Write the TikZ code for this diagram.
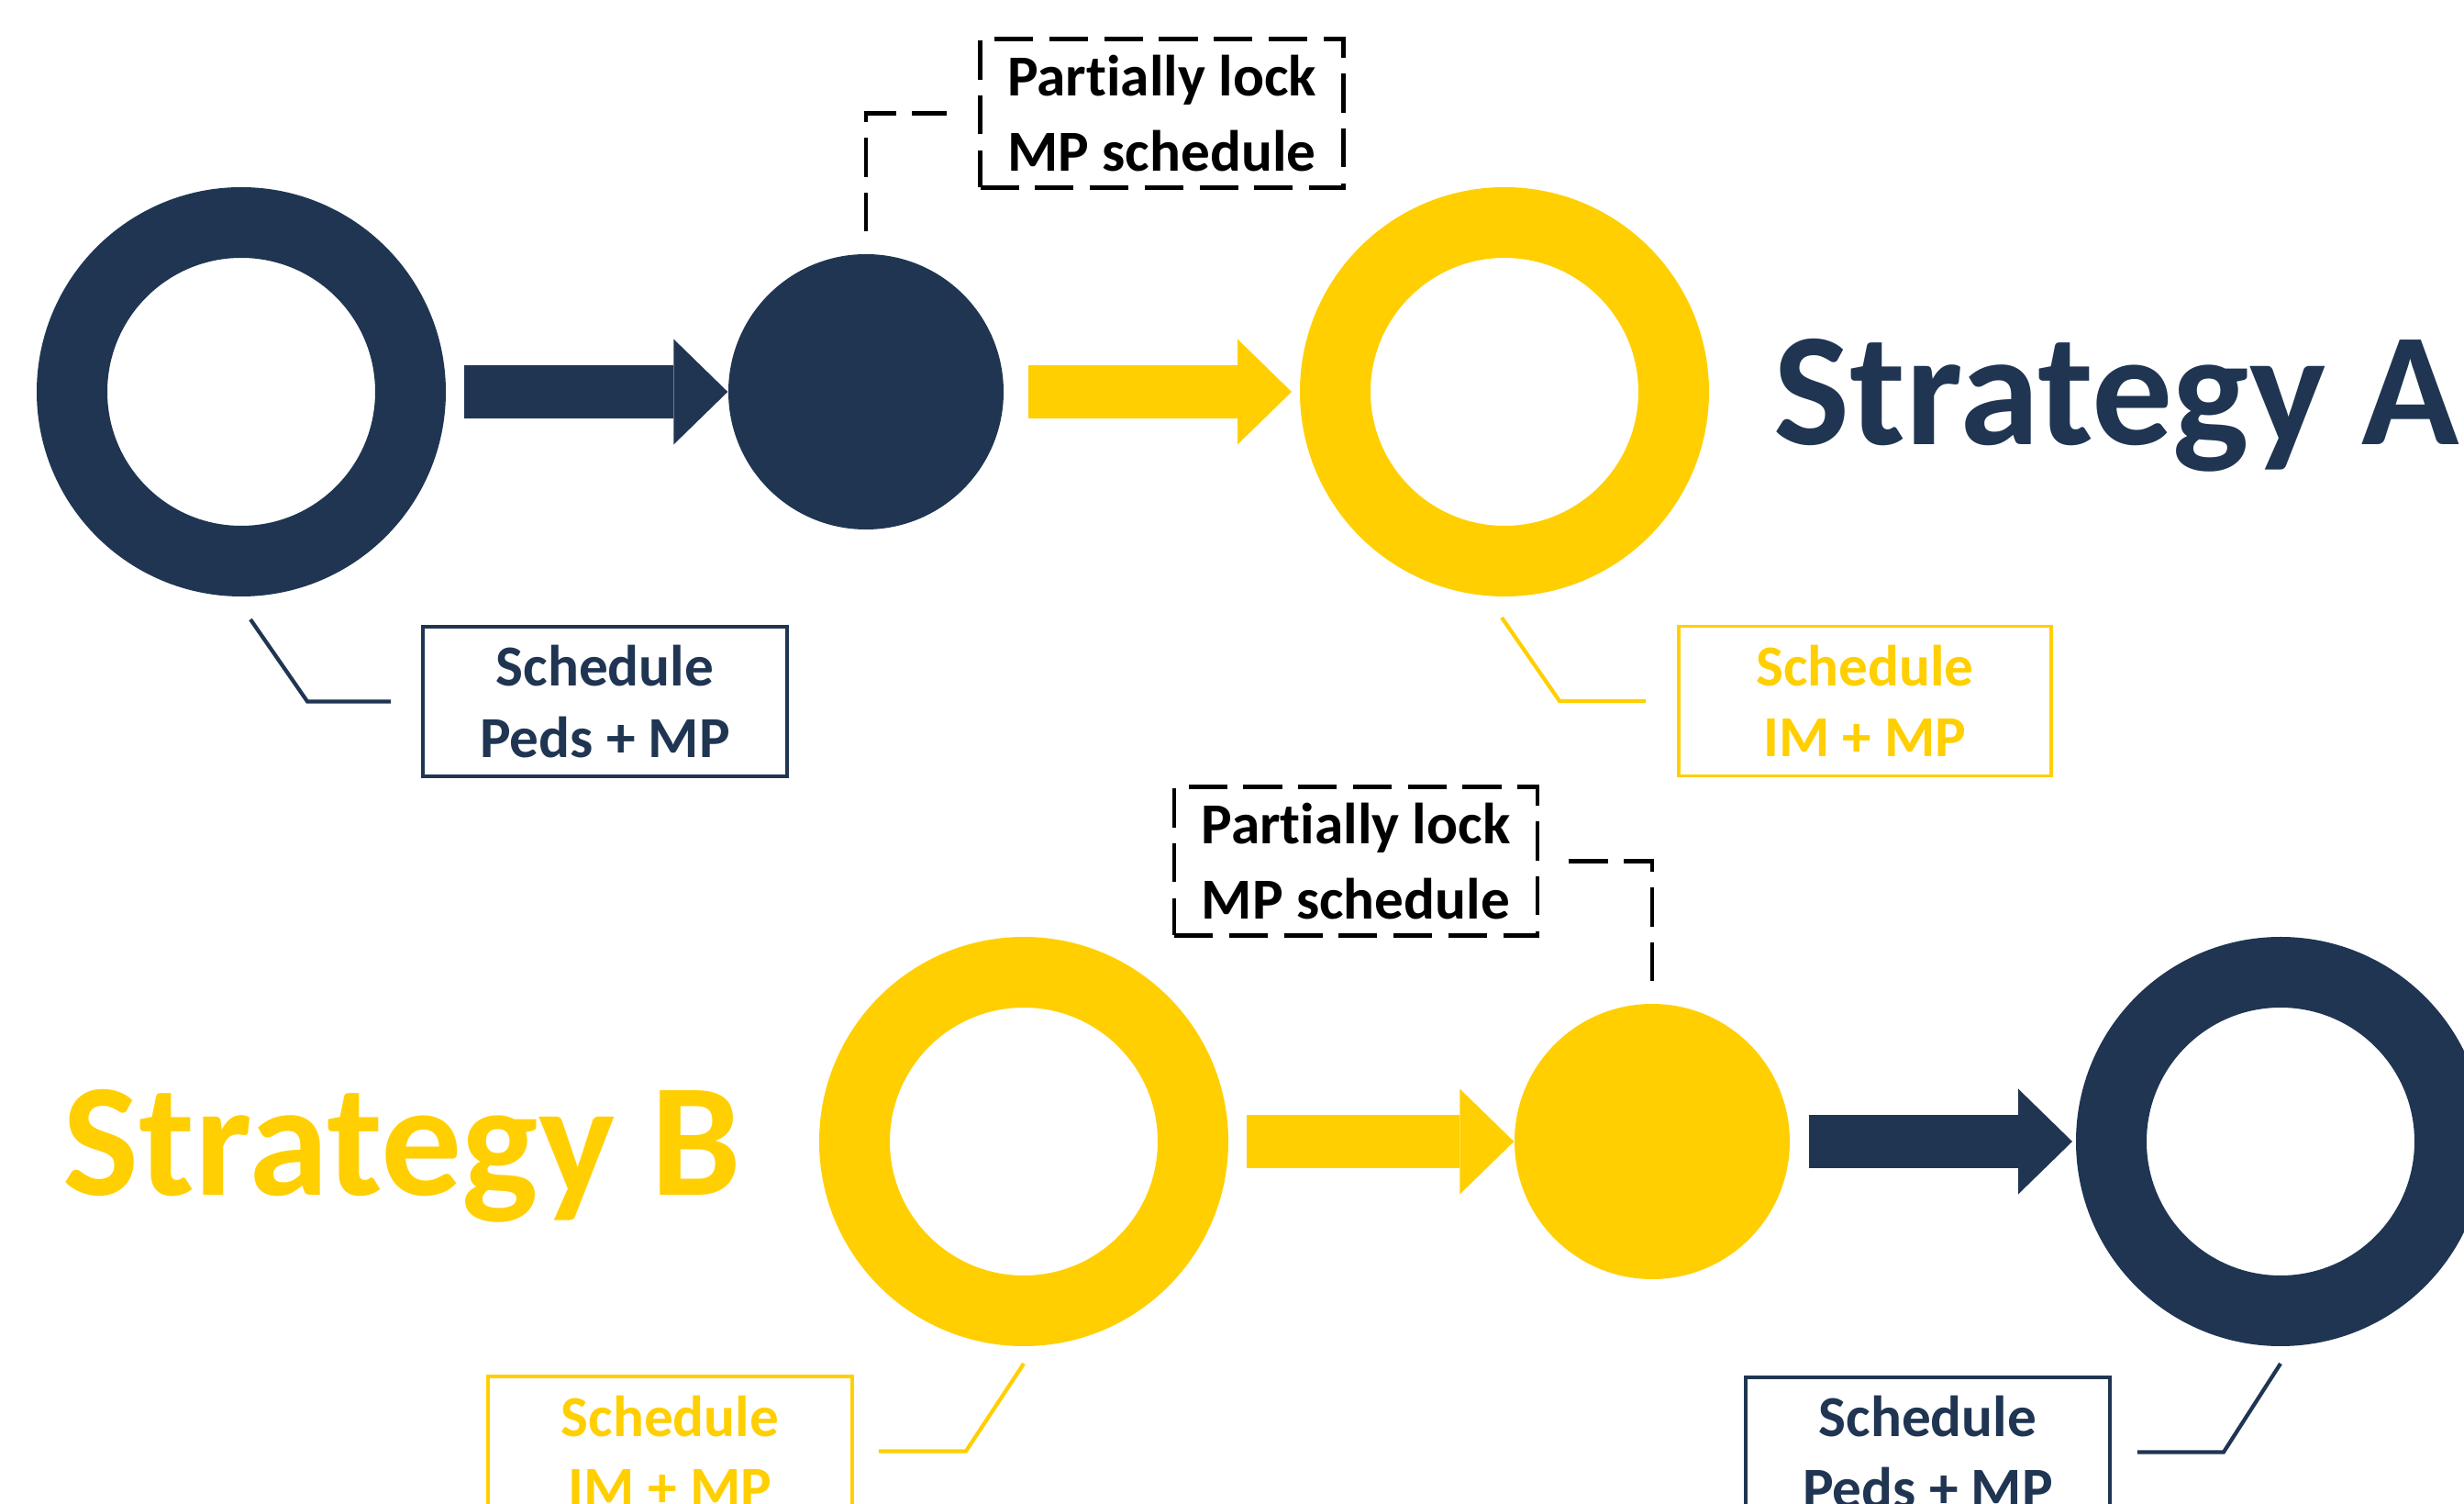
\documentclass[tikz,border=0pt]{standalone}
\usepackage{fontspec}
\setmainfont{Carlito}[RawFeature={-liga;-dlig;-calt;-clig}]
\usetikzlibrary{arrows.meta}
\definecolor{stratnavy}{RGB}{31,53,82}
\definecolor{stratgold}{RGB}{255,207,1}

\begin{document}
\begin{tikzpicture}[
        openring/.style={circle, draw=#1, line width=7.7mm, minimum size=36.9mm, inner sep=0pt},
        lockdot/.style={circle, fill=#1, minimum size=30mm, inner sep=0pt},
        blockarrow/.style={#1, line width=5.8mm, -{Triangle[length=5.9mm,width=11.5mm,line width=0pt]}, shorten <=2mm},
        schedbox/.style={draw=#1, text=#1, line width=1.1pt, minimum width=39.7mm, minimum height=16.3mm, align=center, font=\bfseries\fontsize{18}{22}\selectfont},
        lockbox/.style={draw=black, dash pattern=on 12pt off 5pt, line width=1.2pt, minimum width=39.6mm, minimum height=16.2mm, align=center, font=\bfseries\fontsize{18}{23.5}\selectfont},
        calloutline/.style={draw=#1, line width=1.2pt},
        lockline/.style={draw=black, dash pattern=on 12pt off 5pt, line width=1.2pt},
        strat/.style={text=#1, anchor=base west, inner sep=0pt, font=\bfseries\fontsize{50}{60}\selectfont}
    ]
        \useasboundingbox (0,0) rectangle (26.86,16.39);
        \clip (0,0) rectangle (26.86,16.39);

        % Strategy A
        \node[openring=stratnavy] (ringA1) at (2.63,12.12) {};
        \node[lockdot=stratnavy] (dotA) at (9.44,12.12) {};
        \node[openring=stratgold] (ringA2) at (16.40,12.12) {};
        \node[strat=stratnavy] (stratA) at (19.33,11.54) {Strategy A};
        \node[schedbox=stratnavy] (schedA1) at (6.595,8.745) {Schedule\\Peds + MP};
        \node[schedbox=stratgold, minimum width=40.6mm] (schedA2) at (20.33,8.75) {Schedule\\IM + MP};
        \node[lockbox] (lockA) at (12.665,15.155) {Partially lock\\MP schedule};

        \draw[blockarrow=stratnavy] (ringA1) -- (dotA);
        \draw[blockarrow=stratgold, shorten <=2.6mm, shorten >=0.9mm] (dotA) -- (ringA2);
        \draw[calloutline=stratnavy] ([xshift=1mm,yshift=-2.5mm]ringA1.south) -- ([xshift=-12.4mm]schedA1.west) -- ([xshift=-3.3mm]schedA1.west);
        \draw[calloutline=stratgold] ([xshift=-0.3mm,yshift=-2.3mm]ringA2.south) -- ([xshift=-12.8mm]schedA2.west) -- ([xshift=-3.4mm]schedA2.west);
        \draw[lockline] ([yshift=2.4mm]dotA.north) |- ([xshift=-3.4mm]lockA.west);

        % Strategy B
        \node[strat=stratgold] (stratB) at (0.68,3.36) {Strategy B};
        \node[openring=stratgold] (ringB1) at (11.16,3.95) {};
        \node[lockdot=stratgold] (dotB) at (18.01,3.95) {};
        \node[openring=stratnavy] (ringB2) at (24.86,3.95) {};
        \node[schedbox=stratgold] (schedB1) at (7.305,0.575) {Schedule\\IM + MP};
        \node[schedbox=stratnavy] (schedB2) at (21.015,0.565) {Schedule\\Peds + MP};
        \node[lockbox] (lockB) at (14.78,7.005) {Partially lock\\MP schedule};

        \draw[blockarrow=stratgold] (ringB1) -- (dotB);
        \draw[blockarrow=stratnavy, shorten >=0.4mm] (dotB) -- (ringB2);
        \draw[calloutline=stratgold] ([yshift=-1.9mm]ringB1.south) -- ([xshift=12.2mm]schedB1.east) -- ([xshift=2.7mm]schedB1.east);
        \draw[calloutline=stratnavy] ([yshift=-1.9mm]ringB2.south) -- ([xshift=12.2mm]schedB2.east) -- ([xshift=2.8mm]schedB2.east);
        \draw[lockline] ([yshift=2.4mm]dotB.north) |- ([xshift=3mm]lockB.east);
    \end{tikzpicture}
\end{document}
